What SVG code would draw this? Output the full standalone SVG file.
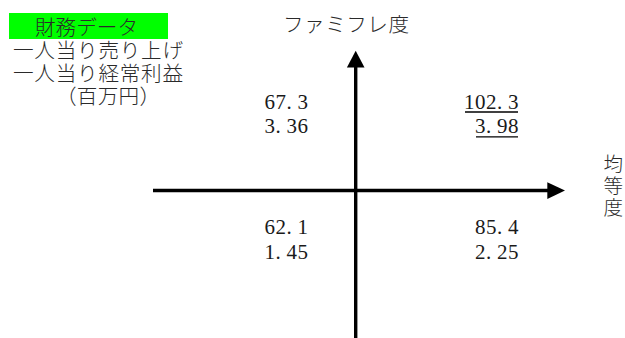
<svg xmlns="http://www.w3.org/2000/svg" width="625" height="338" viewBox="0 0 625 338">
<style>
.jp{font-family:"Liberation Serif","Noto Sans CJK JP",serif;font-size:20.6px;font-weight:300;fill:#2a2a2a}
.v{font-size:19.5px}
.num{font-family:"Liberation Serif","Noto Sans CJK JP",serif;font-size:21px;fill:#1a1a1a}
.ax{stroke:#000;stroke-width:3.4;fill:none}
.ul{stroke:#000;stroke-width:1.3}
</style>
<rect width="625" height="338" fill="#fff"/>
<g id="legend">
<rect x="9" y="13" width="159" height="26" fill="#00ff00"/>
<text class="jp" x="35" y="35" textLength="103">財務データ</text>
<text class="jp" x="13" y="58" textLength="170">一人当り売り上げ</text>
<text class="jp" x="13" y="81" textLength="170">一人当り経常利益</text>
<text class="jp" x="56" y="104" textLength="104">（百万円）</text>
</g>
<g id="connectors">
<line class="ax" x1="355.7" y1="66" x2="355.7" y2="338"/>
<polygon points="355.7,50.7 364.5,67.5 346.9,67.5" fill="#000"/>
<line class="ax" x1="153" y1="190.5" x2="548" y2="190.5"/>
<polygon points="565,190.6 547.3,182.3 547.3,199" fill="#000"/>
</g>
<g id="y-axis-label">
<text class="jp" x="283" y="32" textLength="126">ファミフレ度</text>
</g>
<g id="x-axis-label">
<text class="jp v" x="603.5" y="171">均</text>
<text class="jp v" x="603.5" y="193">等</text>
<text class="jp v" x="603.5" y="215">度</text>
</g>
<g id="q-top-left">
<text class="num" x="264.5 275.5 286.5 297.5" y="109">67.3</text>
<text class="num" x="264.5 275.5 286.5 297.5" y="133">3.36</text>
</g>
<g id="q-top-right">
<text class="num" x="464 475 486 497 508" y="109">102.3</text>
<line class="ul" x1="465" y1="112" x2="518" y2="112"/>
<text class="num" x="475 486 497 508" y="133">3.98</text>
<line class="ul" x1="476" y1="136.8" x2="518" y2="136.8"/>
</g>
<g id="q-bottom-left">
<text class="num" x="264.5 275.5 286.5 297.5" y="234">62.1</text>
<text class="num" x="264.5 275.5 286.5 297.5" y="259">1.45</text>
</g>
<g id="q-bottom-right">
<text class="num" x="475 486 497 508" y="234">85.4</text>
<text class="num" x="475 486 497 508" y="259">2.25</text>
</g>
</svg>
